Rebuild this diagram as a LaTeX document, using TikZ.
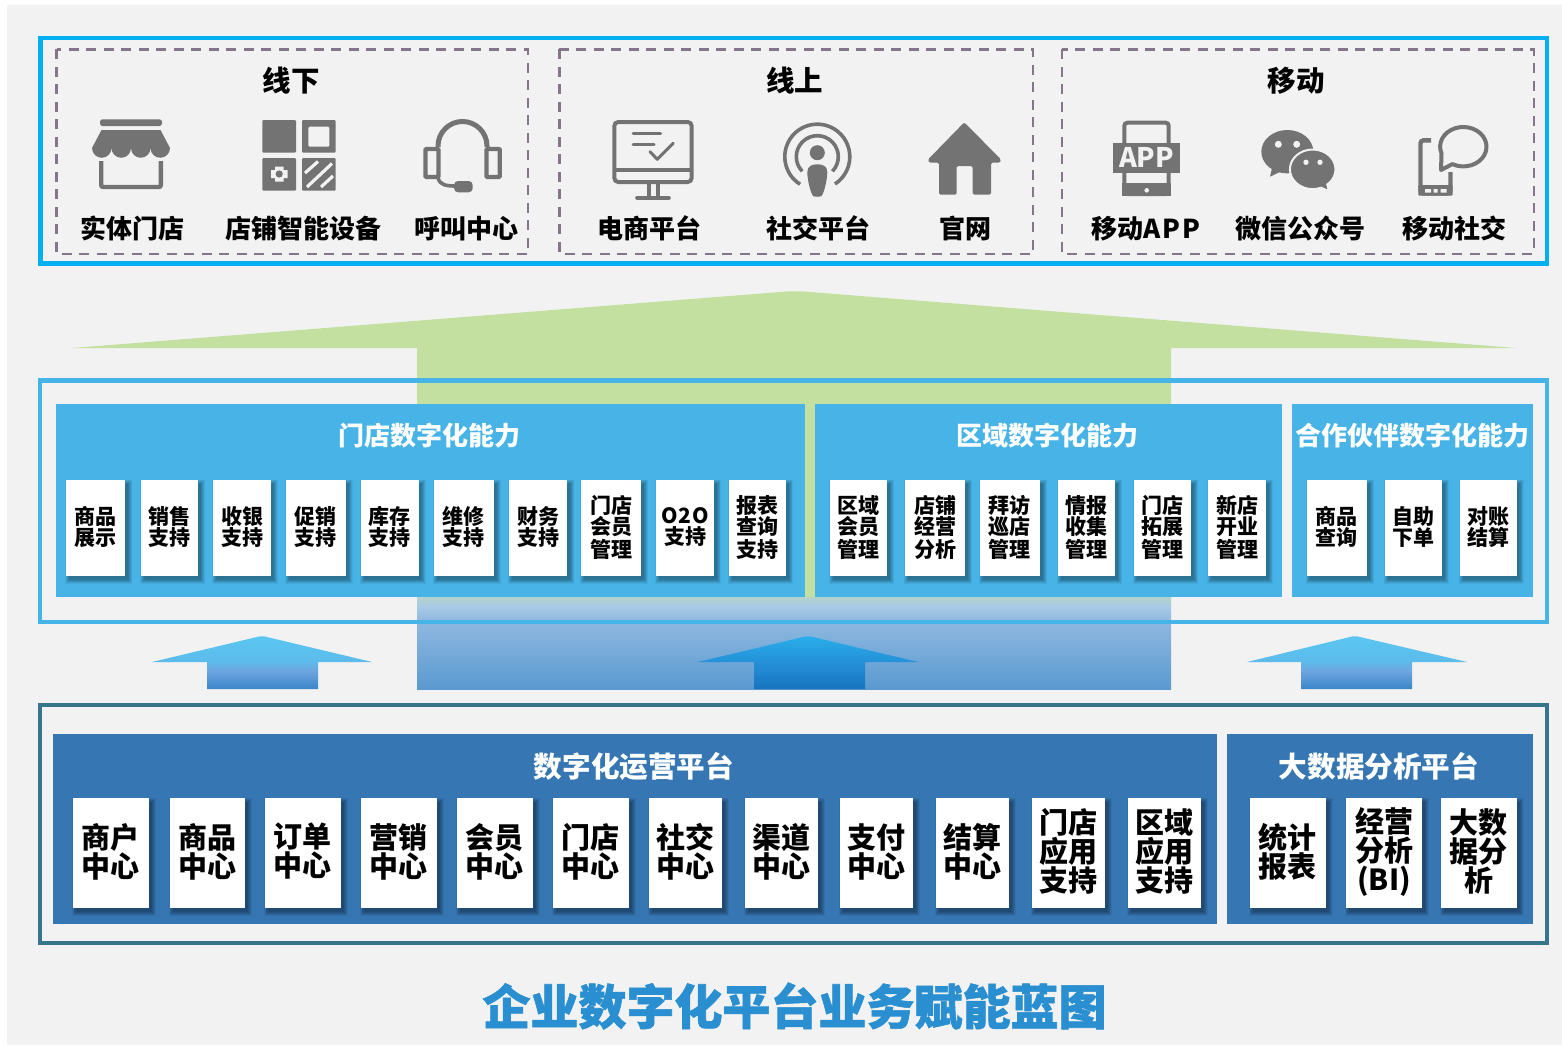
\documentclass[tikz,border=0pt]{standalone}
\usepackage{fontspec}
\setmainfont{Noto Sans CJK SC}
\newfontfamily\titlefont[FakeBold=1.2]{Noto Sans CJK SC}
\usetikzlibrary{calc}
\definecolor{pagebg}{HTML}{F2F2F2}
\definecolor{topline}{HTML}{00B0F0}
\definecolor{dashline}{HTML}{85758A}
\definecolor{icongray}{HTML}{737373}
\definecolor{greenbig}{HTML}{C3E0A1}
\definecolor{midline}{HTML}{47B4E8}
\definecolor{midpanel}{HTML}{47B3E6}
\definecolor{lowline}{HTML}{36758C}
\definecolor{lowpanel}{HTML}{3676B3}
\definecolor{titleblue}{HTML}{2A8FD0}
\definecolor{bbA}{HTML}{5A9AD0}
\definecolor{bbB}{HTML}{8FB8E0}
\definecolor{bbC}{HTML}{A9CAE6}
\definecolor{bbD}{HTML}{B4D3CC}
\definecolor{saA}{HTML}{3A85C8}
\definecolor{saB}{HTML}{6DA5E0}
\definecolor{saC}{HTML}{5CBCEC}
\definecolor{saD}{HTML}{5AC6F0}
\definecolor{maA}{HTML}{1873BE}
\definecolor{maB}{HTML}{2490D8}
\definecolor{maC}{HTML}{2AAEEB}
\pgfdeclareverticalshading{bigblue}{100bp}{color(0bp)=(bbA);color(25bp)=(bbA);color(62bp)=(bbB);color(70bp)=(bbC);color(75bp)=(bbD);color(100bp)=(bbD)}
\pgfdeclareverticalshading{smallarrow}{100bp}{color(0bp)=(saA);color(25bp)=(saA);color(42bp)=(saB);color(52bp)=(saC);color(75bp)=(saD);color(100bp)=(saD)}
\pgfdeclareverticalshading{midarrow}{100bp}{color(0bp)=(maA);color(25bp)=(maA);color(50bp)=(maB);color(75bp)=(maC);color(100bp)=(maC)}
\tikzset{
  topframe/.style={draw=topline,line width=4.4pt},
  dashframe/.style={draw=dashline,line width=2.6pt,dash pattern=on 10pt off 7.5pt},
  grouptitle/.style={font=\fontsize{28.5}{30}\selectfont\bfseries,text=black,inner sep=0pt},
  iconlabel/.style={font=\fontsize{26}{28}\selectfont\bfseries,text=black,inner sep=0pt},
  iconfill/.style={fill=icongray,draw=none},
  iconline/.style={draw=icongray,line width=4pt,fill=none},
  panelbox/.style={fill=midpanel,draw=none},
  lowbox/.style={fill=lowpanel,draw=none},
  midtitle/.style={font=\fontsize{26}{28}\selectfont\bfseries,text=white,inner sep=0pt},
  lowtitle/.style={font=\fontsize{28.6}{30}\selectfont\bfseries,text=white,inner sep=0pt},
  cardplate/.style={fill=white,draw=none,inner sep=0pt},
  midcard/.style={inner sep=0pt,align=center,text=black,font=\fontsize{21}{21}\selectfont\bfseries},
  lowcard/.style={inner sep=0pt,align=center,text=black,font=\fontsize{29}{29}\selectfont\bfseries},
}
\newcommand\cardbox[8]{% name,x1,x2,y1,y2,style,text,text shift
  \foreach \k in {1,...,8}{
    \fill[black,opacity=.05] ({#2+4-\k*.6},{#4+5-\k*.6}) rectangle ({#3+2+\k*.6},{#5+3+\k*.6});
  }
  \pgfmathsetmacro\cardw{#3-#2}\pgfmathsetmacro\cardh{#5-#4}
  \node[cardplate,minimum width=\cardw pt,minimum height=\cardh pt] (#1) at ({(#2+#3)/2},{(#4+#5)/2}) {};
  \node[#6,yshift=#8] (#1t) at (#1.center) {#7};
}
\newcommand\midc[4]{\cardbox{#1}{#2}{#3}{479.5}{575.7}{midcard}{#4}{0.5pt}}
\newcommand\lowc[4]{\cardbox{#1}{#2}{#3}{798}{908}{lowcard}{#4}{1.5pt}}
\begin{document}
\begin{tikzpicture}[x=1pt,y=-1pt]
\useasboundingbox (0,0) rectangle (1562,1045);
\fill[pagebg] (7,5) rectangle (1562,1045);

% big green arrow and blue lower part
\fill[greenbig,rounded corners=0pt] (72,348) -- (780,292) .. controls (790,291) and (800,291) .. (810,292) -- (1516,348) -- (1171,348) -- (1171,598) -- (417,598) -- (417,348) -- cycle;
\shade[shading=bigblue] (417,597) rectangle (1171,689);

% small arrows
\shade[shading=smallarrow] (152,662) -- (257,637) .. controls (260,636) and (264,636) .. (267,637) -- (372,662) -- (318,662) -- (318,689) -- (207,689) -- (207,662) -- cycle;
\shade[shading=midarrow] (698,662) -- (803,637) .. controls (806,636) and (810,636) .. (813,637) -- (918,662) -- (865,662) -- (865,689) -- (754,689) -- (754,662) -- cycle;
\shade[shading=smallarrow] (1247,662) -- (1350,637) .. controls (1353,636) and (1357,636) .. (1360,637) -- (1467,662) -- (1412,662) -- (1412,689) -- (1301,689) -- (1301,662) -- cycle;

% top frame
\draw[topframe] (40.5,38) rectangle (1547,263.5);
\draw[dashframe] (56.6,49.3) rectangle (528,254);
\draw[dashframe] (559.3,49.3) rectangle (1033,254);
\draw[dashframe] (1062,49.3) rectangle (1534,254);

\node[grouptitle] (gOff) at (291,81) {线下};
\node[grouptitle] (gOn) at (794.5,81) {线上};
\node[grouptitle] (gMob) at (1296,81) {移动};

\node[iconlabel] (l1) at (132,228.5) {实体门店};
\node[iconlabel] (l2) at (303,228.5) {店铺智能设备};
\node[iconlabel] (l3) at (466.7,228.5) {呼叫中心};
\node[iconlabel] (l4) at (649,228.5) {电商平台};
\node[iconlabel] (l5) at (818,228.5) {社交平台};
\node[iconlabel] (l6) at (965,228.5) {官网};
\node[iconlabel] (l7) at (1145.7,228.5) {移动A\kern2pt P\kern2pt P};
\node[iconlabel] (l8) at (1300,228.5) {微信公众号};
\node[iconlabel] (l9) at (1454,228.5) {移动社交};

% store icon
\fill[iconfill,rounded corners=2.5pt] (100,119.3) rectangle (162,126);
\fill[iconfill] (101.5,130) -- (160.5,130) -- (170,148) arc (0:180:9.75) arc (0:180:9.75) arc (0:180:9.75) arc (0:180:9.75) -- cycle;
\draw[iconline,line width=4.4pt,rounded corners=2pt] (101.2,161) -- (101.2,187) -- (160.8,187) -- (160.8,161);

% device icon
\fill[iconfill,rounded corners=1pt] (262.3,120) rectangle (296,152.7);
\fill[iconfill,rounded corners=1pt,even odd rule] (302,120) rectangle (335.7,152.7) (308.3,126.7) rectangle (329.3,146.7);
\fill[iconfill,rounded corners=1pt] (262.3,158) rectangle (296,190.7);
\fill[pagebg] (275,166.5) rectangle (283.5,181.5) (271,170) rectangle (287.5,178);
\fill[iconfill] (279.2,174) circle (3.6);
\fill[iconfill,rounded corners=1pt] (302,158) rectangle (335.7,190.7);
\draw[pagebg,line width=3.2pt] (305,173) -- (318,161.5) (307,187) -- (332,163.5) (321,187) -- (333,176);

% headset icon
\draw[iconline,line width=5pt] (438,147) -- (438,146) arc (180:360:24.5) -- (487,147);
\draw[iconline,line width=4.4pt,rounded corners=1pt] (425.5,149) rectangle (438.5,177);
\draw[iconline,line width=4.4pt,rounded corners=1pt] (486.5,149) rectangle (499.7,177);
\draw[iconline,line width=3.6pt] (438,178) .. controls (440,185) and (446,186) .. (456,186);
\fill[iconfill,rounded corners=4pt] (454,181) rectangle (472.7,192.3);

% monitor icon
\draw[iconline,rounded corners=4pt] (614.3,122) rectangle (691.7,182);
\draw[iconline] (614.3,170) -- (691.7,170);
\draw[iconline,line width=3.6pt] (649,183) -- (649,197) (657.7,183) -- (657.7,197);
\draw[iconline,line cap=round,line width=3.6pt] (637,197.8) -- (669,197.8);
\draw[iconline,line cap=round,line width=3pt] (633,133.7) -- (660.7,133.7) (633,144.7) -- (654,144.7);
\draw[iconline,line width=3pt,line cap=round,line join=round] (650,151.7) -- (657.3,159.3) -- (673.3,143.3);

% podcast icon
\draw[iconline,line width=3.6pt] (817.3,156.7) ++(122:32.5) arc (122:417:32.5);
\draw[iconline,line width=3.6pt] (817.3,156.7) ++(136:21) arc (136:404:21);
\fill[iconfill] (817.3,152.7) circle (7.5);
\fill[iconfill] (807.3,172) .. controls (807.3,166) and (812,164.3) .. (817.3,164.3) .. controls (822.6,164.3) and (827.3,166) .. (827.3,172) .. controls (827.3,180) and (824,193) .. (821.5,196) .. controls (820,197) and (814.6,197) .. (813.1,196) .. controls (810.6,193) and (807.3,180) .. (807.3,172) -- cycle;

% home icon
\fill[iconfill,rounded corners=1.5pt] (964.3,122.3) -- (1001,159.5) -- (1000,162.7) -- (991,162.7) -- (991,194.7) -- (972.7,194.7) -- (972.7,166) -- (956.7,166) -- (956.7,194.7) -- (939,194.7) -- (939,162.7) -- (929,162.7) -- (928,159.5) -- cycle;

% app icon
\draw[iconline,rounded corners=3pt] (1124.3,122.7) rectangle (1168.7,194);
\fill[iconfill] (1122,182.5) rectangle (1171,196);
\fill[pagebg] (1146.7,190.3) circle (2.3);
\fill[iconfill] (1113.3,142.7) rectangle (1180,172.7);
\node[font=\fontsize{27}{27}\selectfont\bfseries,text=pagebg,inner sep=0pt] (appword) at (1146.5,157.5) {APP};

% wechat icon
\fill[iconfill] (1287.3,151.7) ellipse (26 and 21.7);
\fill[iconfill] (1272,168) -- (1270,176.7) -- (1284,170) -- cycle;
\fill[pagebg] (1278.3,144.3) circle (3.5) (1296.7,144.3) circle (3.5);
\fill[iconfill,draw=pagebg,line width=2pt] (1312.7,169.3) ellipse (22.8 and 19.8);
\fill[iconfill] (1318,185) -- (1327.3,189.3) -- (1325,180) -- cycle;
\fill[pagebg] (1306,162.3) circle (2.7) (1320,162.3) circle (2.7);

% mobile social icon
\draw[iconline,line width=4.4pt,rounded corners=3pt] (1431,140.3) -- (1420.5,140.3) -- (1420.5,193.5) -- (1450.5,193.5) -- (1450.5,172);
\fill[iconfill,rounded corners=1pt] (1418.3,185) rectangle (1452.7,195.7);
\fill[pagebg] (1425,189) rectangle (1431,192.5) (1433.5,189) rectangle (1437.5,192.5) (1440.5,189) rectangle (1446.5,192.5);
\draw[iconline,line join=round] (1463.3,146.7) ++(160:23.2 and 19.7) arc (160:478:23.2 and 19.7) -- (1441,170) -- cycle;

% middle frame
\draw[draw=midline,line width=4.3pt] (40,380.5) rectangle (1547,621.7);
\fill[panelbox] (56,404) rectangle (804.5,596.7);
\fill[panelbox] (815,404) rectangle (1282,596.7);
\fill[panelbox] (1291.7,404) rectangle (1532.7,596.7);
\node[midtitle] (t1) at (429,436) {门店数字化能力};
\node[midtitle] (t2) at (1047,436) {区域数字化能力};
\node[midtitle] (t3) at (1412,436) {合作伙伴数字化能力};

\midc{m1}{66.2}{125.4}{商品\\展示}
\midc{m2}{141.2}{197.9}{销售\\支持}
\midc{m3}{213.2}{270.8}{收银\\支持}
\midc{m4}{286.1}{345.8}{促销\\支持}
\midc{m5}{361.1}{418.8}{库存\\支持}
\midc{m6}{434}{493.8}{维修\\支持}
\midc{m7}{509}{567.3}{财务\\支持}
\midc{m8}{581}{641.2}{门店\\会员\\[2pt]管理}
\midc{m9}{656}{714.2}{O\kern1pt 2\kern1pt O\\支持}
\midc{m10}{729}{786.1}{报表\\查询\\[2pt]支持}
\midc{r1}{830.1}{887}{区域\\会员\\[2pt]管理}
\midc{r2}{905}{965.2}{店铺\\经营\\[2pt]分析}
\midc{r3}{979.8}{1040}{拜访\\巡店\\[2pt]管理}
\midc{r4}{1058}{1114.9}{情报\\收集\\[2pt]管理}
\midc{r5}{1133.8}{1191.2}{门店\\拓展\\[2pt]管理}
\midc{r6}{1208.2}{1266}{新店\\开业\\[2pt]管理}
\midc{p1}{1306.8}{1367}{商品\\查询}
\midc{p2}{1385}{1441.9}{自助\\下单}
\midc{p3}{1459.9}{1516.7}{对账\\结算}

% lower frame
\draw[draw=lowline,line width=4.3pt] (40,705.2) rectangle (1547,943);
\fill[lowbox] (53,734) rectangle (1217,924);
\fill[lowbox] (1227,734) rectangle (1532.7,924);
\node[lowtitle] (t4) at (634,766) {数字化运营平台};
\node[lowtitle] (t5) at (1379,766) {大数据分析平台};

\lowc{c1}{72.8}{148.9}{商户\\中心}
\lowc{c2}{169.8}{244.9}{商品\\中心}
\lowc{c3}{264.8}{341}{订单\\中心}
\lowc{c4}{360.8}{437}{营销\\中心}
\lowc{c5}{456.9}{533}{会员\\中心}
\lowc{c6}{552.9}{629}{门店\\中心}
\lowc{c7}{648.9}{722}{社交\\中心}
\lowc{c8}{745}{818}{渠道\\中心}
\lowc{c9}{839.8}{913.2}{支付\\中心}
\lowc{c10}{936}{1009}{结算\\中心}
\lowc{c11}{1031.8}{1105}{门店\\应用\\支持}
\lowc{c12}{1128}{1200.9}{区域\\应用\\支持}
\lowc{b1}{1250}{1325.8}{统计\\报表}
\lowc{b2}{1346}{1422}{经营\\分析\\(BI)}
\lowc{b3}{1441}{1516.7}{大数\\据分\\析}

\node[font=\fontsize{48}{50}\selectfont\titlefont\bfseries,text=titleblue,inner sep=0pt] (main) at (794.5,1006) {企业数字化平台业务赋能蓝图};
\end{tikzpicture}
\end{document}
